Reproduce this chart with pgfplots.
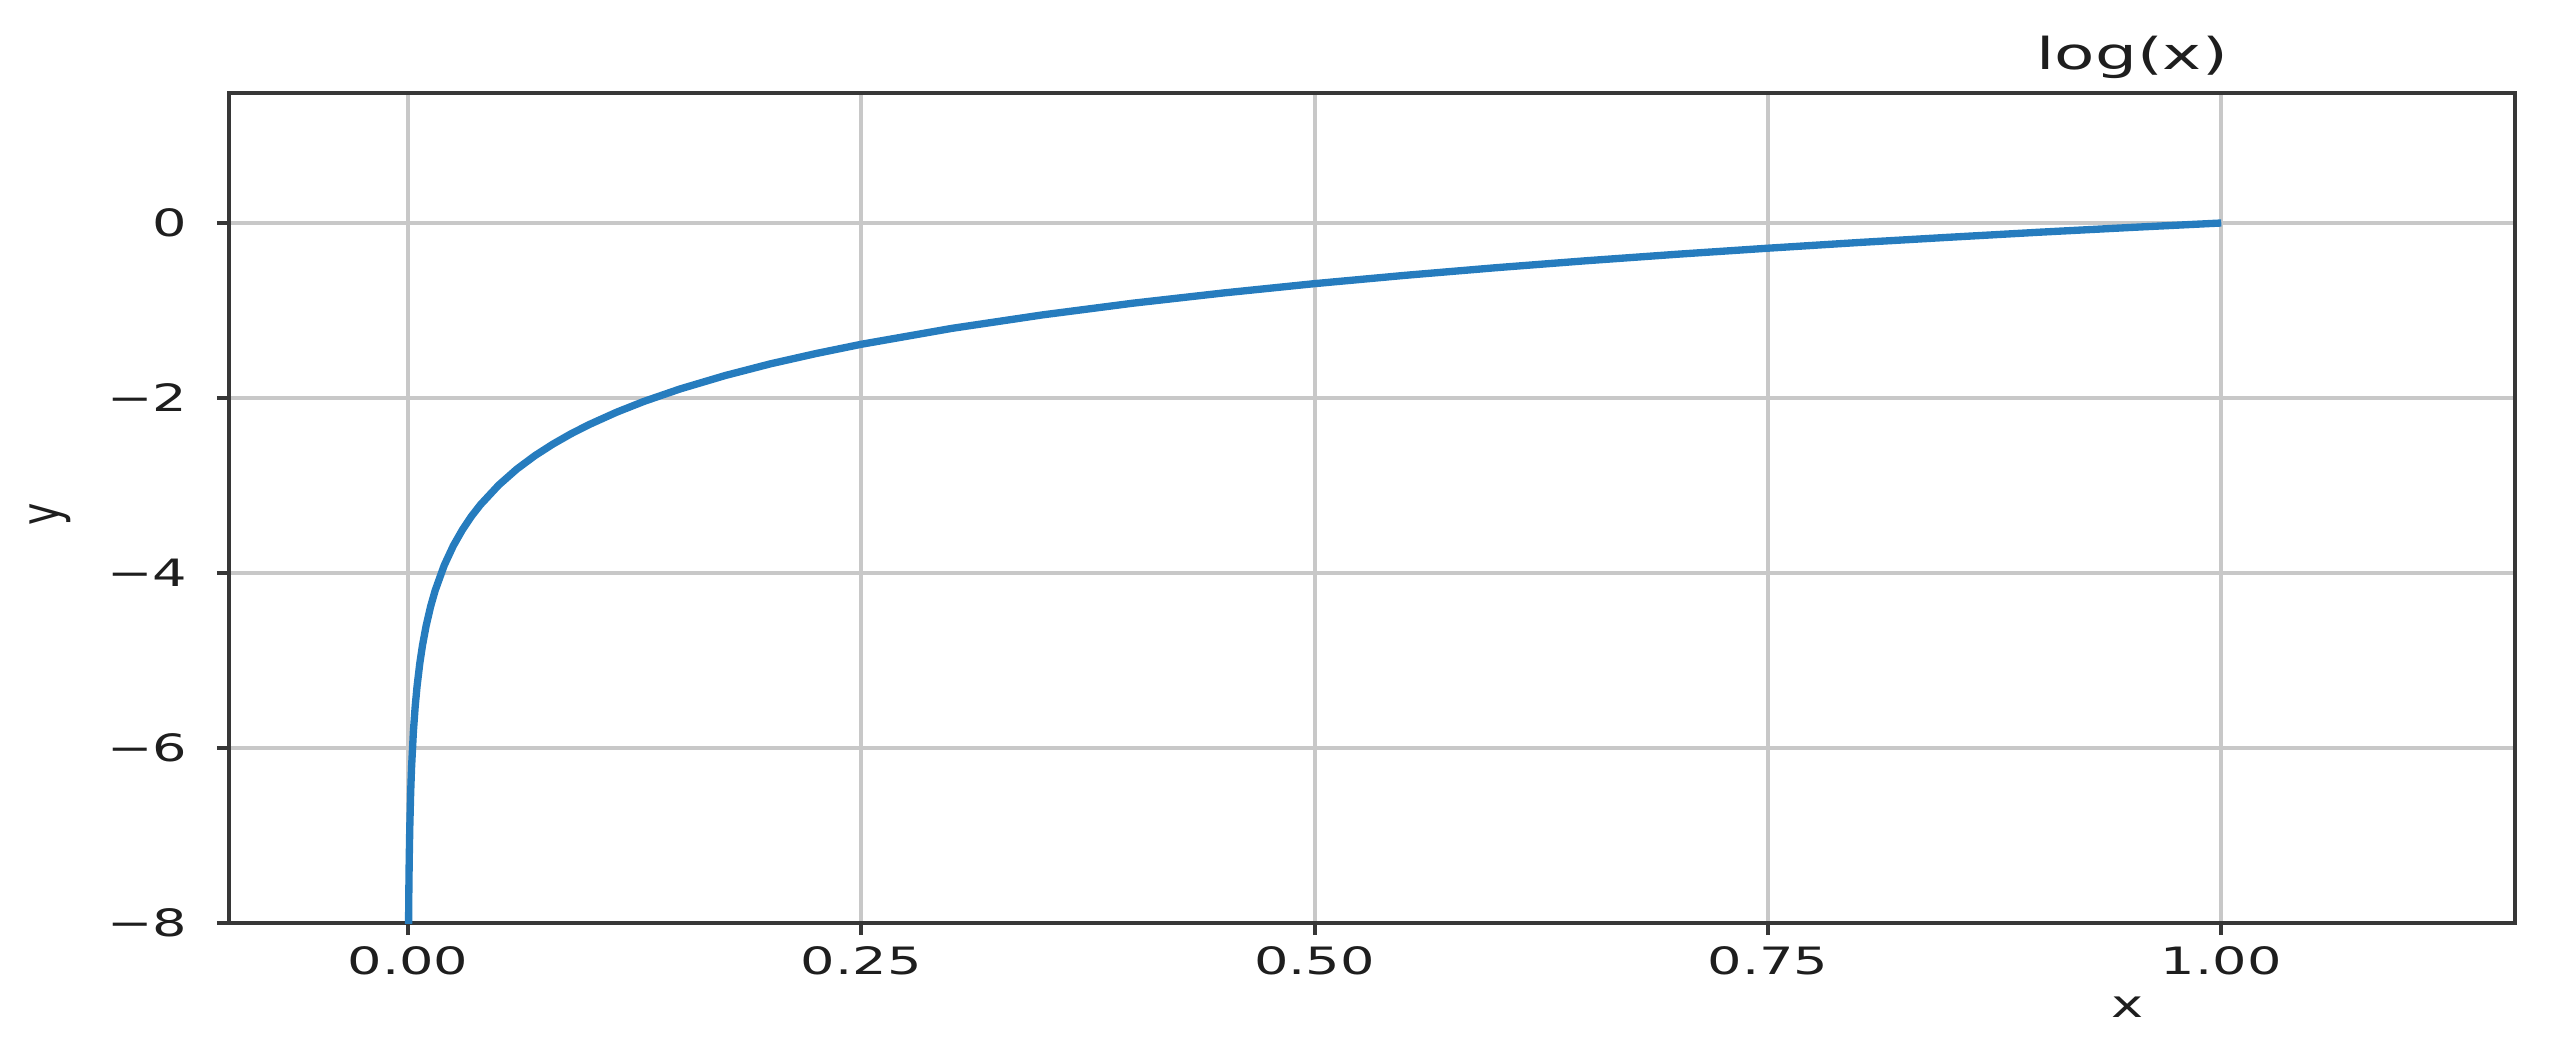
\documentclass[border=0pt]{standalone}
\usepackage{fontspec}
\setmainfont{DejaVu Sans}
\usepackage{pgfplots}
\pgfplotsset{compat=1.18}
\definecolor{curveblue}{RGB}{38,124,190}
\definecolor{gridgray}{RGB}{200,200,200}
\definecolor{framegray}{RGB}{55,55,55}
\definecolor{textgray}{RGB}{30,30,30}
\begin{document}
\begin{tikzpicture}
\useasboundingbox (-68.7pt,-38.7pt) rectangle (699.3pt,276.9pt);
\begin{axis}[
  at={(0,0)}, anchor=south west,
  scale only axis,
  width=685.8pt, height=249pt,
  xmin=-0.0987, xmax=1.162,
  ymin=-8, ymax=1.486,
  xtick={0,0.25,0.5,0.75,1},
  xticklabels={0.00,0.25,0.50,0.75,1.00},
  ytick={-8,-6,-4,-2,0},
  yticklabels={−8,−6,−4,−2,0},
  xtick pos=bottom, ytick pos=left,
  tick align=outside,
  major tick length=3.6pt,
  tick style={framegray, line width=1.2pt},
  axis line style={framegray, line width=1.4pt},
  grid=major,
  major grid style={gridgray, line width=1.2pt},
  xticklabel style={font=\fontsize{11.3}{13}\selectfont, text=textgray, xscale=1.44, inner sep=0pt, anchor=north, yshift=-3.3pt},
  yticklabel style={font=\fontsize{11.3}{13}\selectfont, text=textgray, xscale=1.44, inner sep=0pt, anchor=east, xshift=-6pt},
  clip mode=individual,
]
\addplot[curveblue, line width=2.2pt] coordinates {
(0.0002,-8.517) (0.0003,-8.112) (0.0004,-7.824) (0.0005,-7.601) (0.0007,-7.264)
(0.001,-6.908) (0.0015,-6.502) (0.002,-6.215) (0.003,-5.809) (0.004,-5.521)
(0.005,-5.298) (0.0065,-5.036) (0.008,-4.828) (0.01,-4.605) (0.0125,-4.382)
(0.015,-4.200) (0.02,-3.912) (0.025,-3.689) (0.03,-3.507) (0.035,-3.352)
(0.04,-3.219) (0.05,-2.996) (0.06,-2.813) (0.07,-2.659) (0.08,-2.526)
(0.09,-2.408) (0.1,-2.303) (0.115,-2.163) (0.13,-2.040) (0.15,-1.897)
(0.175,-1.743) (0.2,-1.609) (0.225,-1.492) (0.25,-1.386) (0.3,-1.204)
(0.35,-1.050) (0.4,-0.916) (0.45,-0.799) (0.5,-0.693) (0.55,-0.598)
(0.6,-0.511) (0.65,-0.431) (0.7,-0.357) (0.75,-0.288) (0.8,-0.223)
(0.85,-0.163) (0.9,-0.105) (0.95,-0.051) (1.0,0)
};
\node[anchor=base east, xscale=1.5, inner sep=0pt, text=textgray, font=\fontsize{13.2}{15}\selectfont]
  at (axis cs:1,1.486) [yshift=6.9pt, xshift=1.5pt] {log(x)};
\node[anchor=center, xscale=1.44, inner sep=0pt, text=textgray, font=\fontsize{11.3}{13}\selectfont]
  at (axis cs:0.9482,-8) [yshift=-25.2pt] {x};
\end{axis}
\node[rotate=90, anchor=center, yscale=1.44, inner sep=0pt, text=textgray, font=\fontsize{11.3}{13}\selectfont]
  at (-53.7pt,122.7pt) {y};
\end{tikzpicture}
\end{document}
